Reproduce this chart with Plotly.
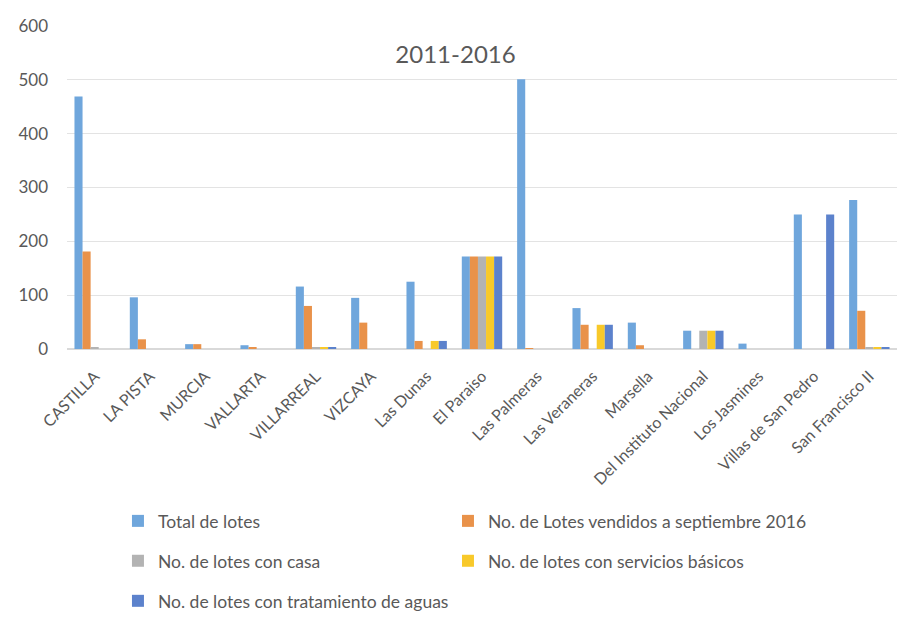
import plotly.graph_objects as go

categories = ["CASTILLA", "LA PISTA", "MURCIA", "VALLARTA", "VILLARREAL", "VIZCAYA",
              "Las Dunas", "El Paraiso", "Las Palmeras", "Las Veraneras", "Marsella",
              "Del Instituto Nacional", "Los Jasmines", "Villas de San Pedro", "San Francisco II"]

total_lotes = [469, 96, 9, 7, 116, 95, 125, 172, 501, 76, 49, 34, 10, 250, 277]
vendidos = [181, 18, 9, 3, 80, 49, 15, 172, 1, 45, 7, 0, 0, 0, 71]
con_casa = [3, 0, 0, 0, 2, 0, 0, 172, 0, 0, 0, 34, 0, 0, 2]
servicios = [0, 0, 0, 0, 2, 0, 15, 172, 0, 45, 0, 34, 0, 0, 2]
tratamiento = [0, 0, 0, 0, 2, 0, 15, 172, 0, 45, 0, 34, 0, 250, 2]

y_ticks = [0, 100, 200, 300, 400, 500, 600]

series = [
    ("Total de lotes", total_lotes, "#6fa6dc"),
    ("No. de Lotes vendidos a septiembre 2016", vendidos, "#e9924a"),
    ("No. de lotes con casa", con_casa, "#b3b3b3"),
    ("No. de lotes con servicios básicos", servicios, "#f8c92a"),
    ("No. de lotes con tratamiento de aguas", tratamiento, "#5c82cc"),
]

# legend boxes laid out in two columns, three rows (paper coordinates)
legend_slots = [(0.0614, -0.5325), (0.459, -0.5325),
                (0.0614, -0.656), (0.459, -0.656),
                (0.0614, -0.780)]

text_color = "#595959"
font_family = "Lato, 'Open Sans', sans-serif"

fig = go.Figure()
legend_layout = {}
for i, ((name, vals, color), (lx, ly)) in enumerate(zip(series, legend_slots)):
    key = "legend" if i == 0 else f"legend{i + 1}"
    fig.add_trace(go.Bar(x=categories, y=vals, name=name, marker_color=color,
                         marker_line_width=0, legend=key, showlegend=True))
    legend_layout[key] = dict(x=lx, y=ly, xanchor="left", yanchor="middle",
                              bgcolor="rgba(0,0,0,0)",
                              font=dict(family=font_family, size=17.5, color=text_color),
                              itemclick=False, itemdoubleclick=False)

fig.update_layout(
    width=911, height=626,
    showlegend=True,
    margin=dict(l=67, r=14, t=26, b=277, autoexpand=False),
    paper_bgcolor="white", plot_bgcolor="white",
    barmode="group", bargap=0.27, bargroupgap=0,
    title=dict(text="2011-2016", x=0.5, xanchor="center", y=0.913, yanchor="middle",
               font=dict(family=font_family, size=24, color=text_color)),
    font=dict(family=font_family, color=text_color),
    xaxis=dict(tickangle=-45, tickfont=dict(size=16, color=text_color),
               showgrid=False, showline=False, ticks="", ticklabelstandoff=14,
               automargin=False),
    yaxis=dict(range=[0, 600], tickvals=y_ticks, tickfont=dict(size=17, color=text_color),
               showgrid=True, gridcolor="#e3e3e3", gridwidth=1, zeroline=True,
               zerolinecolor="#d9d9d9", showline=False, ticks="", ticklabelstandoff=18,
               automargin=False),
    **legend_layout,
)

fig.write_html("out.html")
